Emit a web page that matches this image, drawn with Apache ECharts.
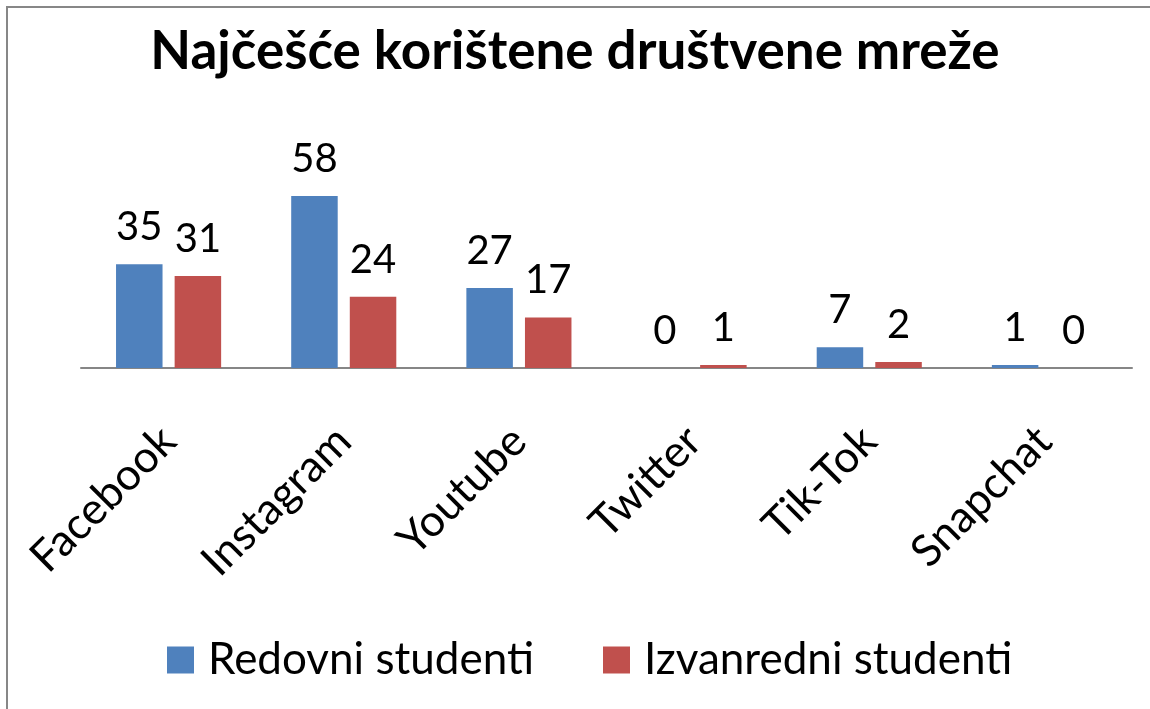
<!DOCTYPE html>
<html lang="hr">
<head>
<meta charset="utf-8">
<title>Najčešće korištene društvene mreže</title>
<style>
html, body { margin: 0; padding: 0; background: #fff; }
#container { width: 1150px; height: 709px; }
</style>
</head>
<body>
<div id="container"></div>
<script src="https://cdn.jsdelivr.net/npm/echarts@6/dist/echarts.min.js"></script>
<script>
// podaci
var categories = ['Facebook', 'Instagram', 'Youtube', 'Twitter', 'Tik-Tok', 'Snapchat'];
var redovni = [35, 58, 27, 0, 7, 1];
var izvanredni = [31, 24, 17, 1, 2, 0];
var seriesNames = ['Redovni studenti', 'Izvanredni studenti'];

var font = 'Lato, "Open Sans", sans-serif';
var chart = echarts.init(document.getElementById('container'));

var labelStyle = {
    show: true,
    position: 'top',
    distance: 17,
    color: '#000',
    fontSize: 40,
    fontFamily: font
};

var option = {
    backgroundColor: '#fff',
    animation: false,
    title: {
        text: 'Najčešće korištene društvene mreže',
        left: 'center',
        top: 20,
        textStyle: { fontSize: 53, fontWeight: 'bold', color: '#000', fontFamily: font }
    },
    graphic: [{
        type: 'rect',
        shape: { x: 7, y: 7, width: 1160, height: 720 },
        style: { fill: null, stroke: '#878787', lineWidth: 2 },
        silent: true
    }],
    legend: {
        data: seriesNames,
        bottom: 22,
        left: 162,
        itemWidth: 27,
        itemHeight: 27,
        itemGap: 69,
        icon: 'rect',
        textStyle: { fontSize: 44, color: '#000', fontFamily: font, padding: [0, 0, 0, 9] }
    },
    grid: { left: 81, right: 18, top: 190, bottom: 341 },
    xAxis: {
        type: 'category',
        data: categories,
        axisLine: { lineStyle: { color: '#868686', width: 2 } },
        axisTick: { show: false },
        axisLabel: {
            rotate: 45,
            interval: 0,
            margin: 66,
            color: '#000',
            fontSize: 44,
            fontFamily: font
        }
    },
    yAxis: {
        type: 'value',
        min: 0,
        max: 60,
        show: false,
        splitLine: { show: false }
    },
    series: [{
        name: seriesNames[0],
        type: 'bar',
        data: redovni,
        barGap: '26%',
        barCategoryGap: '40%',
        itemStyle: { color: '#4F81BD' },
        label: labelStyle
    }, {
        name: seriesNames[1],
        type: 'bar',
        data: izvanredni,
        itemStyle: { color: '#C0504D' },
        label: labelStyle
    }]
};

chart.setOption(option);
</script>
</body>
</html>
